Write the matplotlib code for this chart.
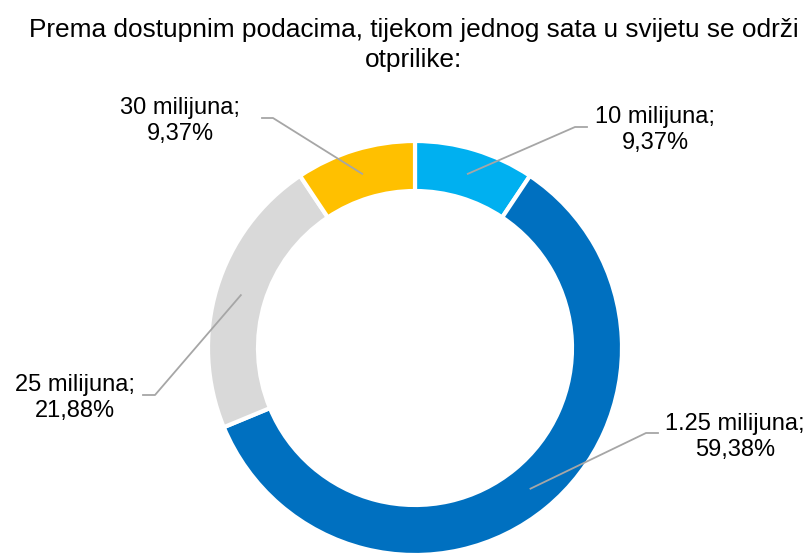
import numpy as np
import matplotlib.pyplot as plt

plt.rcParams['font.family'] = ['Liberation Sans', 'DejaVu Sans']

title = 'Prema dostupnim podacima, tijekom jednog sata u svijetu se održi\notprilike:'
categories = ['10 milijuna', '1.25 milijuna', '25 milijuna', '30 milijuna']
shares = [9.37, 59.38, 21.88, 9.37]
share_labels = ['9,37%', '59,38%', '21,88%', '9,37%']
colors = ['#00B0F0', '#0070C0', '#D9D9D9', '#FFC000']

W, H = 809, 554
fig = plt.figure(figsize=(W / 100, H / 100), dpi=100)
ax = fig.add_axes([0, 0, 1, 1])

cx, cy = 415, H - 348
R, ring = 207, 50
wedges, _ = ax.pie(shares, colors=colors, startangle=90, counterclock=False,
                   center=(cx, cy), radius=R,
                   wedgeprops=dict(width=ring, edgecolor='white', linewidth=3))
ax.set_xlim(0, W)
ax.set_ylim(0, H)
ax.set_aspect('equal')
ax.axis('off')

# label layout: elbow start, elbow end (towards text), text centre
layout = [
    ((575, 127), (587, 127), (655, 130)),
    ((646, 433), (658, 433), (735, 437)),
    ((155, 395), (143, 395), (75, 398)),
    ((273, 118), (262, 118), (180, 121)),
]

for w, cat, lab, (p1, p2, tc) in zip(wedges, categories, share_labels, layout):
    mid = np.deg2rad((w.theta1 + w.theta2) / 2)
    rm = R - ring / 2
    x0, y0 = cx + rm * np.cos(mid), cy + rm * np.sin(mid)
    ax.plot([x0, p1[0], p2[0]], [y0, H - p1[1], H - p2[1]], color='#A6A6A6', lw=1.3)
    ax.text(tc[0], H - tc[1], cat + ';\n' + lab, ha='center', va='center',
            fontsize=17, color='black', linespacing=1.2)

ax.text(414, H - 45, title, ha='center', va='center', fontsize=18.9,
        color='black', linespacing=1.3)

fig.savefig('out.png', dpi=100)
